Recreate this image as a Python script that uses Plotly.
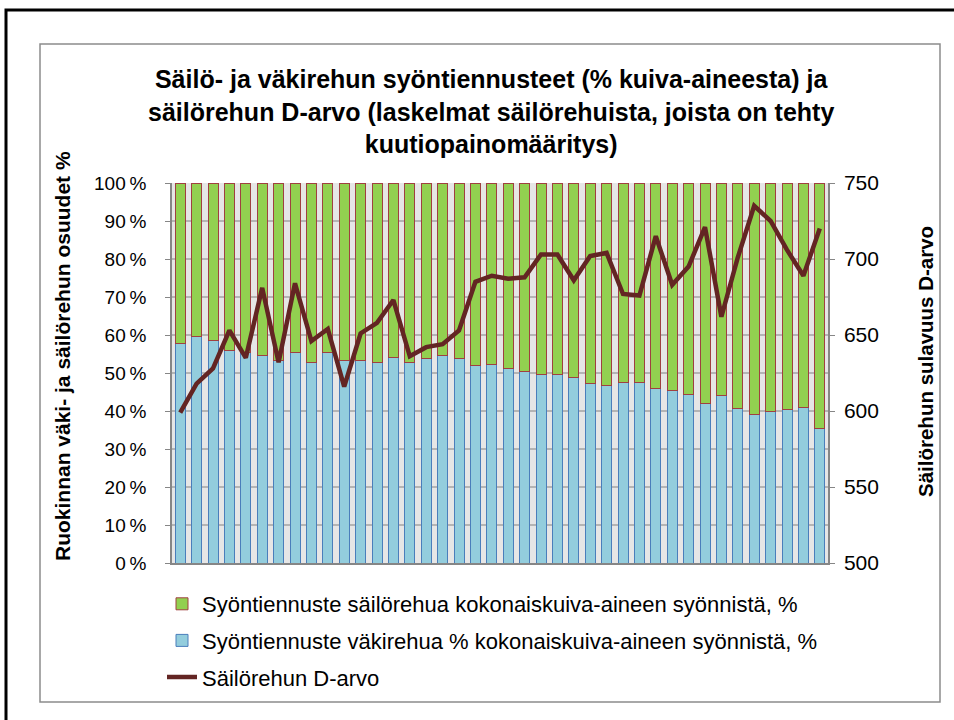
import plotly.graph_objects as go

# sample index (40 silage samples)
samples = list(range(1, 41))

# concentrate share of total dry matter intake, %
vakirehu_pct = [
    57.8, 59.5, 58.5, 56.0, 55.3, 54.7, 53.4, 55.4, 52.7, 55.3,
    53.2, 53.2, 52.8, 54.1, 52.8, 53.9, 54.6, 53.7, 52.1, 52.3,
    51.2, 50.5, 49.7, 49.5, 48.9, 47.3, 46.8, 47.6, 47.4, 45.9,
    45.5, 44.4, 42.0, 44.0, 40.7, 39.2, 39.8, 40.5, 41.0, 35.5,
]

# silage share of total dry matter intake, %
sailorehu_pct = [
    42.2, 40.5, 41.5, 44.0, 44.7, 45.3, 46.6, 44.6, 47.3, 44.7,
    46.8, 46.8, 47.2, 45.9, 47.2, 46.1, 45.4, 46.3, 47.9, 47.7,
    48.8, 49.5, 50.3, 50.5, 51.1, 52.7, 53.2, 52.4, 52.6, 54.1,
    54.5, 55.6, 58.0, 56.0, 59.3, 60.8, 60.2, 59.5, 59.0, 64.5,
]

# silage D-value
d_arvo = [
    599, 618, 628, 653, 635, 681, 632, 684, 646, 654,
    616, 651, 658, 673, 636, 642, 644, 653, 685, 689,
    687, 688, 703, 703, 686, 702, 704, 677, 676, 715,
    683, 695, 721, 662, 701, 735, 725, 706, 689, 720,
]

FONT = "Liberation Sans"

# plot area in pixels
L, R, T, B = 172, 828, 183, 563


def px_x(px):
    return (px - L) / (R - L)


def px_y(py):
    return (B - py) / (B - T)


fig = go.Figure()

fig.add_trace(go.Bar(
    x=samples, y=vakirehu_pct,
    name="Syöntiennuste väkirehua % kokonaiskuiva-aineen syönnistä, %",
    marker=dict(color="#93cddd", line=dict(color="#4a7ebb", width=1)),
    legendgroup="b", legendrank=2,
))
fig.add_trace(go.Bar(
    x=samples, y=sailorehu_pct,
    name="Syöntiennuste säilörehua kokonaiskuiva-aineen syönnistä, %",
    marker=dict(color="#92d050", line=dict(color="#a04040", width=1)),
    legendgroup="a", legendrank=1,
))
fig.add_trace(go.Scatter(
    x=samples, y=d_arvo, yaxis="y2", mode="lines",
    name="Säilörehun D-arvo",
    line=dict(color="#632523", width=4.5),
    legendgroup="c", legendrank=3,
))

fig.update_layout(
    width=954, height=720,
    margin=dict(l=L, r=954 - R, t=T, b=720 - B),
    paper_bgcolor="white",
    plot_bgcolor="#e6e6e6",
    barmode="stack",
    bargap=0.39,
    font=dict(family=FONT, size=21, color="black"),
    showlegend=True,
    legend=dict(
        x=px_x(162), y=px_y(583), xanchor="left", yanchor="top",
        font=dict(size=22), traceorder="grouped", tracegroupgap=5,
        bgcolor="rgba(0,0,0,0)",
    ),
    xaxis=dict(
        range=[0.5, 40.5], showticklabels=False, showgrid=False,
        showline=True, linecolor="#868686", linewidth=1.5, ticks="",
        zeroline=False,
    ),
    yaxis=dict(
        range=[0, 100], dtick=10, ticksuffix="\u2009%",
        tickfont=dict(size=19),
        showgrid=True, gridcolor="#b4b4b4", gridwidth=1.5,
        showline=True, linecolor="#868686", linewidth=1.5,
        ticks="outside", ticklen=5, tickcolor="#868686",
        ticklabelstandoff=15, zeroline=False,
    ),
    yaxis2=dict(
        range=[500, 750], dtick=50, overlaying="y", side="right",
        showgrid=False, showline=True, linecolor="#868686", linewidth=1.5,
        ticks="outside", ticklen=5, tickcolor="#868686",
        ticklabelstandoff=5, zeroline=False,
    ),
    annotations=[
        dict(
            text="<b>Säilö- ja väkirehun syöntiennusteet (% kuiva-aineesta) ja<br>"
                 "säilörehun D-arvo (laskelmat säilörehuista, joista on tehty<br>"
                 "kuutiopainomääritys)</b>",
            x=px_x(491), y=px_y(112), xref="paper", yref="paper",
            xanchor="center", yanchor="middle", showarrow=False,
            font=dict(size=25),
        ),
        dict(
            text="<b>Ruokinnan väki- ja säilörehun osuudet %</b>",
            x=px_x(62), y=px_y(356), xref="paper", yref="paper",
            xanchor="center", yanchor="middle", showarrow=False,
            textangle=-90, font=dict(size=21),
        ),
        dict(
            text="<b>Säilörehun sulavuus D-arvo</b>",
            x=px_x(925), y=px_y(362), xref="paper", yref="paper",
            xanchor="center", yanchor="middle", showarrow=False,
            textangle=-90, font=dict(size=20.5),
        ),
    ],
    shapes=[
        dict(type="rect", xref="paper", yref="paper",
             x0=px_x(40), x1=px_x(940), y0=px_y(702), y1=px_y(44),
             line=dict(color="#8c8c8c", width=1.5), layer="below"),
        dict(type="rect", xref="paper", yref="paper",
             x0=px_x(6), x1=px_x(970), y0=px_y(740), y1=px_y(10),
             line=dict(color="black", width=3), layer="below"),
    ],
)

fig.write_html(
    "out.html",
    config={"displayModeBar": False},
    post_script="document.body.style.margin='0px';",
)
